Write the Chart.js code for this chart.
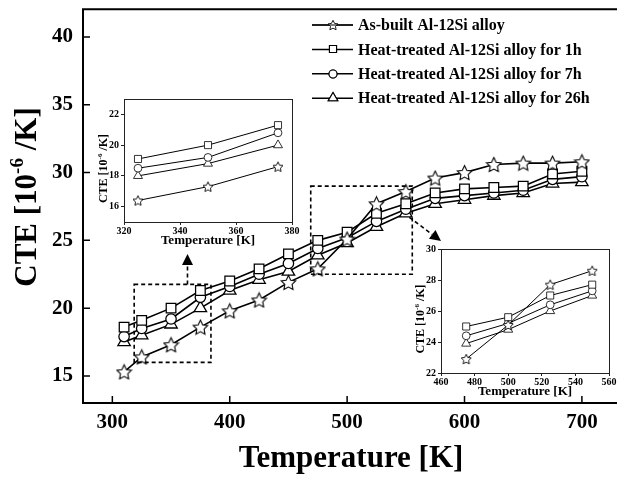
<!DOCTYPE html>
<html>
<head>
<meta charset="utf-8">
<script src="https://cdn.jsdelivr.net/npm/chart.js@4.4.1/dist/chart.umd.min.js"></script>
<style>
  html, body { margin: 0; padding: 0; background: #fff; }
  #wrap { position: relative; width: 617px; height: 477px; overflow: hidden; }
  canvas { position: absolute; }
</style>
</head>
<body>
<div id="wrap">
  <canvas id="main" width="617" height="477" style="left:0;top:0;width:617px;height:477px"></canvas>
  <canvas id="inset1" width="215" height="160" style="left:95px;top:88px;width:215px;height:160px"></canvas>
  <canvas id="inset2" width="205" height="160" style="left:412px;top:240px;width:205px;height:160px"></canvas>
</div>
<script>
// data
const temps   = [310, 325, 350, 375, 400, 425, 450, 475, 500, 525, 550, 575, 600, 625, 650, 675, 700];
const asBuilt = [15.3, 16.4, 17.3, 18.6, 19.8, 20.6, 21.9, 22.9, 25.1, 27.7, 28.6, 29.6, 30.0, 30.6, 30.7, 30.7, 30.8];
const heat1h  = [18.6, 19.1, 20.0, 21.3, 22.0, 22.9, 24.0, 25.0, 25.6, 27.0, 27.7, 28.5, 28.8, 28.9, 29.0, 29.9, 30.1];
const heat7h  = [17.9, 18.5, 19.2, 20.8, 21.6, 22.5, 23.3, 24.4, 25.2, 26.4, 27.3, 28.1, 28.3, 28.5, 28.7, 29.5, 29.7];
const heat26h = [17.5, 18.0, 18.8, 20.0, 21.3, 22.1, 22.7, 23.9, 24.8, 26.0, 27.0, 27.7, 28.0, 28.3, 28.5, 29.2, 29.3];
const seriesNames = [
  'As-built Al-12Si alloy',
  'Heat-treated Al-12Si alloy for 1h',
  'Heat-treated Al-12Si alloy for 7h',
  'Heat-treated Al-12Si alloy for 26h'
];

const xTicksMain = [300, 400, 500, 600, 700];
const yTicksMain = [15, 20, 25, 30, 35, 40];
const xTicksInset1 = [320, 340, 360, 380];
const yTicksInset1 = [16, 18, 20, 22];
const xTicksInset2 = [460, 480, 500, 520, 540, 560];
const yTicksInset2 = [22, 24, 26, 28, 30];

// zoom boxes + arrows, in data units
const zoomBox1 = { x0: 318.6, x1: 384, y0: 16.0, y1: 21.75 };
const zoomBox2 = { x0: 469, x1: 555.5, y0: 22.5, y1: 29.0 };
const arrow1 = { x0: 364, y0: 21.75, x1: 364, y1: 24.0 };
const arrow2 = { x0: 553, y0: 26.7, x1: 580, y1: 24.95 };

const FONT = "'Liberation Serif', 'Times New Roman', serif";

function starImage(size, lw) {
  const c = document.createElement('canvas');
  c.width = size; c.height = size;
  const g = c.getContext('2d');
  const R = size / 2 - lw / 2 - 0.3, r = R * 0.5;
  const cx = size / 2, cy = size / 2 + R * 0.1;
  g.beginPath();
  for (let i = 0; i < 10; i++) {
    const a = -Math.PI / 2 + i * Math.PI / 5;
    const rad = i % 2 ? r : R;
    g.lineTo(cx + rad * Math.cos(a), cy + rad * Math.sin(a));
  }
  g.closePath();
  g.fillStyle = '#fff'; g.fill();
  g.lineJoin = 'miter';
  g.lineWidth = lw; g.strokeStyle = '#000'; g.stroke();
  return c;
}

const mainStyles = [
  { pointStyle: starImage(17, 1.1), radius: 8 },
  { pointStyle: 'rect', radius: 6.8 },
  { pointStyle: 'circle', radius: 5.2 },
  { pointStyle: 'triangle', radius: 7.2 }
];
const insetStyles = [
  { pointStyle: starImage(12, 0.9), radius: 6 },
  { pointStyle: 'rect', radius: 5 },
  { pointStyle: 'circle', radius: 3.9 },
  { pointStyle: 'triangle', radius: 5.2 }
];
const legendStyles = [
  { pointStyle: starImage(12, 0.9), radius: 6 },
  { pointStyle: 'rect', radius: 5 },
  { pointStyle: 'circle', radius: 4 },
  { pointStyle: 'triangle', radius: 5.5 }
];

const allSeries = [asBuilt, heat1h, heat7h, heat26h];

function makeDatasets(styles, lw, xmin, xmax) {
  return allSeries.map((vals, i) => ({
    label: seriesNames[i],
    data: temps.map((t, k) => ({ x: t, y: vals[k] })).filter(p => p.x >= xmin && p.x <= xmax),
    borderColor: '#000',
    borderWidth: lw,
    backgroundColor: '#fff',
    pointStyle: styles[i].pointStyle,
    pointRadius: styles[i].radius,
    pointBackgroundColor: '#fff',
    pointBorderColor: '#000',
    pointBorderWidth: lw * 0.8,
    tension: 0,
    fill: false
  }));
}

function fixedTicks(values) {
  return function (scale) { scale.ticks = values.map(v => ({ value: v })); };
}

function noEdgePadding(scale) {
  scale.paddingTop = 0; scale.paddingBottom = 0;
  scale.paddingLeft = 0; scale.paddingRight = 0;
}

// "CTE [10^-6 /K]" rotated, with superscript
function drawCTE(ctx, baseX, cy, size) {
  const big = 'bold ' + size + 'px ' + FONT;
  const small = 'bold ' + Math.round(size * 0.62) + 'px ' + FONT;
  const parts = [['CTE [10', big, 0], ['-6', small, -size * 0.42], [' /K]', big, 0]];
  ctx.save();
  ctx.translate(baseX, cy);
  ctx.rotate(-Math.PI / 2);
  let total = 0;
  parts.forEach(p => { ctx.font = p[1]; total += ctx.measureText(p[0]).width; });
  let x = -total / 2;
  ctx.fillStyle = '#000';
  ctx.textBaseline = 'alphabetic';
  ctx.textAlign = 'left';
  parts.forEach(p => {
    ctx.font = p[1];
    ctx.fillText(p[0], x, p[2]);
    x += ctx.measureText(p[0]).width;
  });
  ctx.restore();
}

function drawArrow(ctx, x0, y0, x1, y1) {
  const ang = Math.atan2(y1 - y0, x1 - x0);
  const hl = 11, hw = 5.5;
  const bx = x1 - hl * Math.cos(ang), by = y1 - hl * Math.sin(ang);
  ctx.save();
  ctx.strokeStyle = '#000';
  ctx.lineWidth = 1.6;
  ctx.setLineDash([4, 3]);
  ctx.beginPath(); ctx.moveTo(x0, y0); ctx.lineTo(bx, by); ctx.stroke();
  ctx.setLineDash([]);
  ctx.beginPath();
  ctx.moveTo(x1, y1);
  ctx.lineTo(bx + hw * Math.sin(ang), by - hw * Math.cos(ang));
  ctx.lineTo(bx - hw * Math.sin(ang), by + hw * Math.cos(ang));
  ctx.closePath();
  ctx.fillStyle = '#000'; ctx.fill();
  ctx.restore();
}

const mainDecor = {
  id: 'mainDecor',
  afterDraw(chart) {
    const ctx = chart.ctx, a = chart.chartArea;
    const xs = chart.scales.x, ys = chart.scales.y;
    ctx.save();
    // frame (right side is cut off in the original)
    ctx.strokeStyle = '#000';
    ctx.lineWidth = 2;
    ctx.beginPath();
    ctx.moveTo(chart.width, a.top); ctx.lineTo(a.left, a.top);
    ctx.lineTo(a.left, a.bottom); ctx.lineTo(chart.width, a.bottom);
    ctx.stroke();
    // inward ticks
    ctx.lineWidth = 1.5;
    ctx.beginPath();
    xTicksMain.forEach(v => { const px = xs.getPixelForValue(v); ctx.moveTo(px, a.bottom); ctx.lineTo(px, a.bottom - 7); });
    yTicksMain.forEach(v => { const py = ys.getPixelForValue(v); ctx.moveTo(a.left, py); ctx.lineTo(a.left + 7, py); });
    ctx.stroke();
    // dashed zoom boxes
    ctx.lineWidth = 1.6;
    ctx.setLineDash([4, 3]);
    [zoomBox1, zoomBox2].forEach(b => {
      const l = xs.getPixelForValue(b.x0), r = xs.getPixelForValue(b.x1);
      const t = ys.getPixelForValue(b.y1), bt = ys.getPixelForValue(b.y0);
      ctx.strokeRect(l, t, r - l, bt - t);
    });
    ctx.setLineDash([]);
    [arrow1, arrow2].forEach(ar => drawArrow(ctx,
      xs.getPixelForValue(ar.x0), ys.getPixelForValue(ar.y0),
      xs.getPixelForValue(ar.x1), ys.getPixelForValue(ar.y1)));
    // axis titles
    ctx.fillStyle = '#000';
    ctx.font = 'bold 31px ' + FONT;
    ctx.textAlign = 'center';
    ctx.textBaseline = 'alphabetic';
    ctx.fillText('Temperature [K]', 351, 467);
    drawCTE(ctx, 36, 197, 31);
    // legend
    const lx0 = 312, lx1 = 353, ly0 = 25, dy = 24.4;
    chart.data.datasets.forEach((ds, i) => {
      const y = ly0 + i * dy;
      ctx.lineWidth = 1.5;
      ctx.strokeStyle = '#000';
      ctx.beginPath(); ctx.moveTo(lx0, y); ctx.lineTo(lx1, y); ctx.stroke();
      ctx.fillStyle = '#fff';
      ctx.lineWidth = 1.1;
      Chart.helpers.drawPoint(ctx, { pointStyle: legendStyles[i].pointStyle, radius: legendStyles[i].radius, rotation: 0, borderWidth: 1.1 }, Math.round((lx0 + lx1) / 2), Math.round(y));
      ctx.fill(); ctx.stroke();
      ctx.fillStyle = '#000';
      ctx.font = 'bold 16px ' + FONT;
      ctx.textAlign = 'left';
      ctx.textBaseline = 'middle';
      ctx.fillText(ds.label, 358, y + 1);
    });
    ctx.restore();
  }
};

new Chart(document.getElementById('main'), {
  type: 'line',
  data: { datasets: makeDatasets(mainStyles, 1.6, 0, 1000) },
  options: {
    responsive: false,
    animation: false,
    devicePixelRatio: 1,
    events: [],
    layout: { padding: { top: 7, right: 0, left: 0, bottom: 0 } },
    plugins: { legend: { display: false }, tooltip: { enabled: false } },
    scales: {
      x: {
        type: 'linear', min: 275, max: 722,
        afterBuildTicks: fixedTicks(xTicksMain),
        afterFit: s => { s.height = 74; noEdgePadding(s); },
        grid: { display: false, drawTicks: false },
        border: { display: false },
        ticks: { color: '#000', padding: 7, maxRotation: 0, autoSkip: false,
                 font: { family: FONT, size: 21, weight: 'bold' } }
      },
      y: {
        type: 'linear', min: 13, max: 42.05,
        afterBuildTicks: fixedTicks(yTicksMain),
        afterFit: s => { s.width = 83; noEdgePadding(s); },
        grid: { display: false, drawTicks: false },
        border: { display: false },
        ticks: { color: '#000', padding: 10,
                 font: { family: FONT, size: 21, weight: 'bold' } }
      }
    }
  },
  plugins: [mainDecor]
});

const insetDecor = {
  id: 'insetDecor',
  beforeDatasetsDraw(chart) {
    const ctx = chart.ctx, a = chart.chartArea;
    ctx.save();
    ctx.fillStyle = '#fff';
    ctx.fillRect(a.left, a.top, a.right - a.left, a.bottom - a.top);
    ctx.restore();
  },
  afterDraw(chart) {
    const ctx = chart.ctx, a = chart.chartArea;
    ctx.save();
    ctx.strokeStyle = '#222';
    ctx.lineWidth = 1;
    ctx.strokeRect(a.left + 0.5, a.top + 0.5, a.right - a.left, a.bottom - a.top);
    ctx.fillStyle = '#000';
    ctx.font = 'bold 13px ' + FONT;
    ctx.textAlign = 'center';
    ctx.textBaseline = 'alphabetic';
    ctx.fillText('Temperature [K]', (a.left + a.right) / 2, a.bottom + 22);
    drawCTE(ctx, a.left - 17, (a.top + a.bottom) / 2 + 8, 12);
    ctx.restore();
  }
};

function makeInset(id, xr, yr, xTicks, yTicks, box) {
  const tickFont = { family: FONT, size: 10, weight: 'bold' };
  new Chart(document.getElementById(id), {
    type: 'line',
    data: { datasets: makeDatasets(insetStyles, 1, xr[0], xr[1]) },
    options: {
      responsive: false,
      animation: false,
      devicePixelRatio: 1,
      events: [],
      layout: { padding: { top: box.top, right: box.right, left: 0, bottom: 0 } },
      plugins: { legend: { display: false }, tooltip: { enabled: false } },
      scales: {
        x: {
          type: 'linear', min: xr[0], max: xr[1],
          afterBuildTicks: fixedTicks(xTicks),
          afterFit: s => { s.height = box.bottom; noEdgePadding(s); },
          grid: { drawOnChartArea: false, tickLength: 3, color: '#222' },
          border: { display: false },
          ticks: { color: '#000', padding: 0, maxRotation: 0, autoSkip: false, font: tickFont }
        },
        y: {
          type: 'linear', min: yr[0], max: yr[1],
          afterBuildTicks: fixedTicks(yTicks),
          afterFit: s => { s.width = box.left; noEdgePadding(s); },
          grid: { drawOnChartArea: false, tickLength: 3, color: '#222' },
          border: { display: false },
          ticks: { color: '#000', padding: 2, font: tickFont }
        }
      }
    },
    plugins: [insetDecor]
  });
}

makeInset('inset1', [320, 380], [15, 23], xTicksInset1, yTicksInset1, { left: 29, top: 11, right: 18, bottom: 26 });
makeInset('inset2', [460, 560], [22, 30], xTicksInset2, yTicksInset2, { left: 29, top: 9, right: 8, bottom: 27 });
</script>
</body>
</html>
